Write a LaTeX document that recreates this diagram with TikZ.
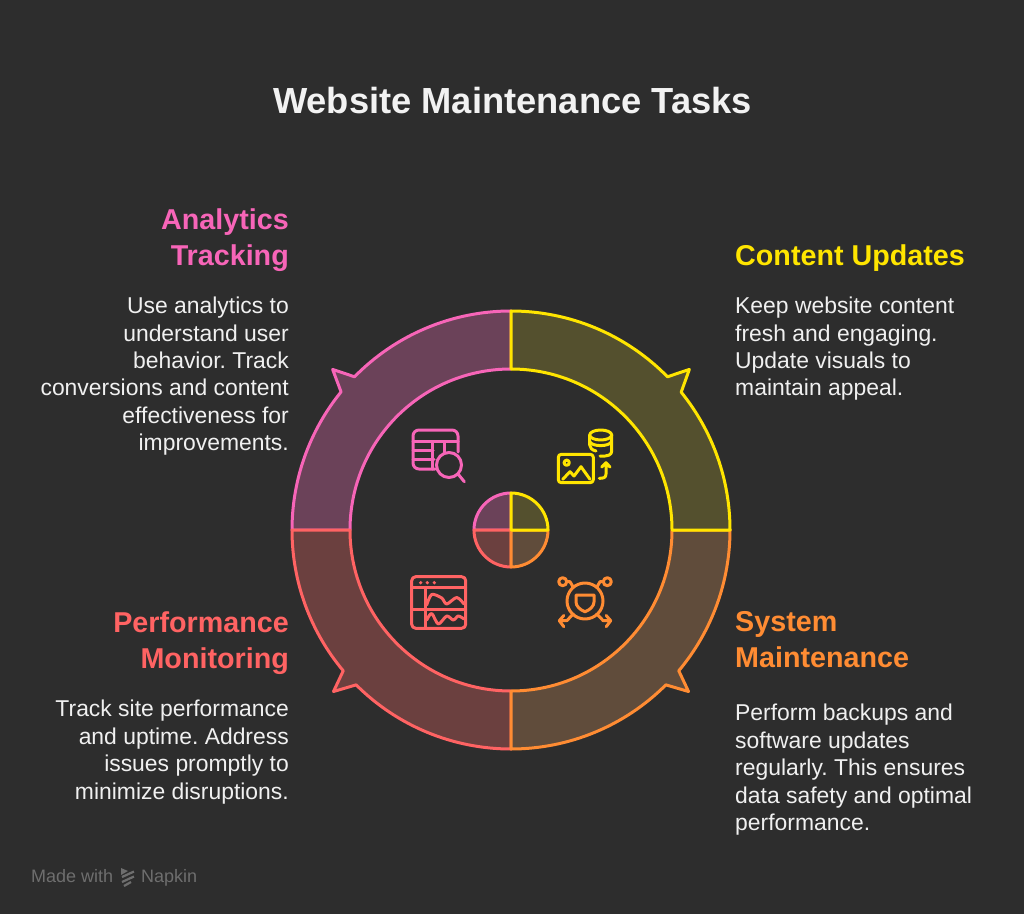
\documentclass[tikz,border=0pt]{standalone}
\usepackage{fontspec}
\setmainfont{Liberation Sans}
\definecolor{bgcol}{HTML}{2D2D2D}
\definecolor{pinkline}{HTML}{F765B8}
\definecolor{pinkfill}{HTML}{6B4259}
\definecolor{redline}{HTML}{FF6363}
\definecolor{redfill}{HTML}{6B403F}
\definecolor{orangeline}{HTML}{FF8C33}
\definecolor{orangefill}{HTML}{604C3B}
\definecolor{yellowline}{HTML}{FFE500}
\definecolor{yellowfill}{HTML}{54502E}
\definecolor{bodycol}{HTML}{F0F0F0}
\definecolor{markcol}{HTML}{6E6E6E}
\begin{document}
\frenchspacing
\begin{tikzpicture}[x=1pt, y=1pt,
    segment/.style={line width=3pt, line join=round},
    icon/.style={line width=3pt, line cap=round, line join=round},
    headleft/.style={font=\fontsize{28.7}{36}\selectfont\bfseries, align=left, anchor=north west, inner sep=0pt},
    headright/.style={font=\fontsize{28.7}{36}\selectfont\bfseries, align=right, anchor=north east, inner sep=0pt},
    bodyleft/.style={text=bodycol, font=\fontsize{22.9}{27.4}\selectfont, align=left, anchor=north west, inner sep=0pt},
    bodyright/.style={text=bodycol, font=\fontsize{22.9}{27.4}\selectfont, align=right, anchor=north east, inner sep=0pt}]
    % Background
    \fill[bgcol] (0,0) rectangle (1024,914);
    \useasboundingbox (0,0) rectangle (1024,914);
    % Title
    \node[text=white!95!black, font=\fontsize{36.3}{44}\selectfont\bfseries, inner sep=0pt] (title) at (512.5,813) {Website Maintenance Tasks};
    % Ring and hub
    \begin{scope}[shift={(511,384)}]
        \foreach \l/\f/\a/\p/\t/\q/\b in {pinkline/pinkfill/180/140.9/138/135.6/90, redline/redfill/270/225/222.3/220/180, orangeline/orangefill/0/-40/-42.3/-45/-90, yellowline/yellowfill/90/44.4/42/39/0} {
            \filldraw[segment, draw=\l, fill=\f] (\a:219pt) arc[start angle=\a, end angle=\p, radius=219pt] -- (\t:240pt) -- (\q:219pt) arc[start angle=\q, end angle=\b, radius=219pt] -- (\b:161pt) arc[start angle=\b, end angle=\a, radius=161pt] -- cycle;
            \filldraw[segment, draw=\l, fill=\f] (0,0) -- (\a:37pt) arc[start angle=\a, end angle=\b, radius=37pt] -- cycle;
        }
    \end{scope}
    % Left column
    \node[headright, text=pinkline] (analytics-head) at (289,705) {Analytics\\Tracking};
    \node[bodyright] (analytics-body) at (289,617) {Use analytics to\\understand user\\behavior. Track\\conversions and content\\effectiveness for\\improvements.};
    \node[headright, text=redline] (performance-head) at (289,303) {Performance\\Monitoring};
    \node[bodyright] (performance-body) at (289,214) {Track site performance\\and uptime. Address\\issues promptly to\\minimize disruptions.};
    % Right column
    \node[headleft, text=yellowline] (content-head) at (735,669) {Content Updates};
    \node[bodyleft] (content-body) at (735,617) {Keep website content\\fresh and engaging.\\Update visuals to\\maintain appeal.};
    \node[headleft, text=orangeline] (system-head) at (735,303) {System\\Maintenance};
    \node[bodyleft] (system-body) at (735,210) {Perform backups and\\software updates\\regularly. This ensures\\data safety and optimal\\performance.};
    % Icons, in image coordinates
    \begin{scope}[shift={(0,914)}, yscale=-1]
        % Table and lens
        \draw[icon, pinkline] (458,452) -- (458,436) arc[start angle=0, end angle=-90, radius=6pt] -- (419,430) arc[start angle=-90, end angle=-180, radius=6pt] -- (413,463) arc[start angle=180, end angle=90, radius=6pt] -- (435,469);
        \draw[icon, pinkline] (413,441.7) -- (458,441.7) (413,450) -- (433,450) (413,459) -- (434,459) (432.3,441.7) -- (432.3,469) (444,441.7) -- (444,452);
        \draw[icon, pinkline] (449,465) circle[radius=12.5pt] (458,474) -- (464.3,481.7);
        % Image and database
        \draw[icon, yellowline, rounded corners=3pt] (558.3,454.3) rectangle (593.3,482.7);
        \draw[icon, yellowline] (566.7,462.7) circle[radius=2.6pt];
        \draw[icon, yellowline] (562.7,479.3) -- (570,471.7) -- (574,476) -- (581,466.7) -- (590,479.3);
        \draw[icon, yellowline] (600.7,435) ellipse[x radius=11pt, y radius=5pt];
        \draw[icon, yellowline] (589.7,435) -- (589.7,445) .. controls (589.7,448) and (592,450) .. (596,451) (611.7,435) -- (611.7,451) .. controls (611.7,455) and (608,456.5) .. (600,456);
        \draw[icon, yellowline] (589.7,441.5) .. controls (592,447) and (609,447) .. (611.7,441.5);
        \draw[icon, yellowline] (599.3,478.3) .. controls (603,478.3) and (606,478) .. (606,474) -- (606,462.7) (601.7,467) -- (606,462.7) -- (610,467);
        % Browser with charts
        \draw[icon, redline, rounded corners=4pt] (411.7,576.7) rectangle (465.7,628.3);
        \draw[icon, redline] (411.7,587.3) -- (465.7,587.3) (425,587.3) -- (425,628.3) (411.7,609) -- (465.7,609);
        \foreach \x in {420.7,427.3,434.3} \fill[redline] (\x,582.7) circle[radius=1.8pt];
        \draw[icon, redline] plot[smooth] coordinates {(426.7,605) (431.7,594.5) (441.7,598) (446.7,604) (456.7,597.5) (464,604)};
        \draw[icon, redline] plot[smooth] coordinates {(426.7,620) (431.7,613.5) (438.3,624) (446.7,616) (453.3,620) (458.3,616) (464,619)};
        % Shield with arrows
        \draw[icon, orangeline] (585,601) circle[radius=18pt];
        \draw[icon, orangeline] (576,595) -- (594,595) -- (594,602) .. controls (594,606) and (590,610) .. (585,611.7) .. controls (580,610) and (576,606) .. (576,602) -- cycle;
        \draw[icon, orangeline] (562.7,581.7) circle[radius=4pt] (607.3,581.7) circle[radius=4pt];
        \draw[icon, orangeline] (567,581.7) -- (570,581.7) -- (573.3,587.3) (603,581.7) -- (600,581.7) -- (596.7,587.3);
        \draw[icon, orangeline] (573.3,614) -- (566.7,620.7) -- (559.3,620.7) (563.8,615.5) -- (559.3,620.7) -- (563.8,626.7);
        \draw[icon, orangeline] (596.7,614) -- (603.3,620.7) -- (610.7,620.7) (606.2,615.5) -- (610.7,620.7) -- (606.2,626.7);
    \end{scope}
    % Footer
    \node[text=markcol, font=\fontsize{18}{20}\selectfont, anchor=base west, inner sep=0pt] (made) at (31,32) {Made with};
    \node[text=markcol, font=\fontsize{18}{20}\selectfont, anchor=base west, inner sep=0pt] (napkin) at (141,32) {Napkin};
    \begin{scope}[shift={(0,914)}, yscale=-1]
        \fill[markcol] (121,868) -- (128,871) -- (121,875) -- cycle;
        \draw[markcol, line width=2.2pt] (122,877) -- (134,871.5) (122,882) -- (134,876.5) (124,886) -- (131,882);
    \end{scope}
\end{tikzpicture}
\end{document}
